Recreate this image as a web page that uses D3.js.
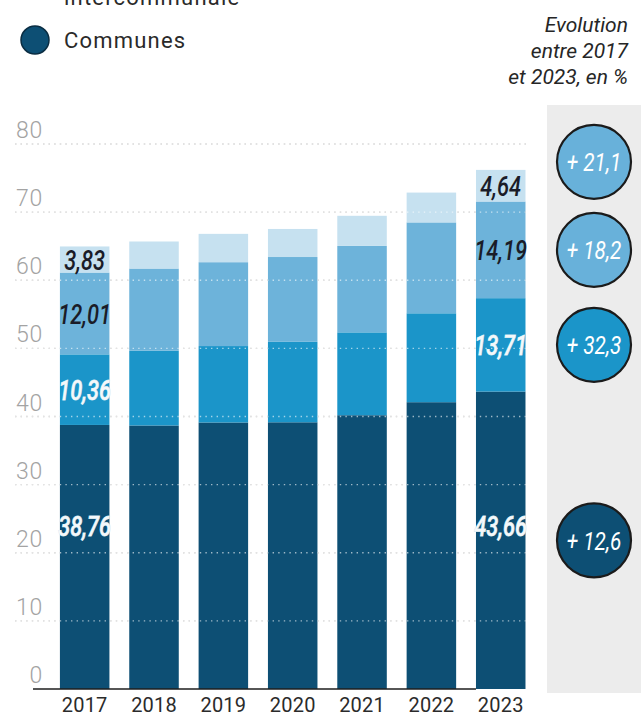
<!DOCTYPE html>
<html>
<head>
<meta charset="utf-8">
<script src="https://cdn.jsdelivr.net/npm/d3@7"></script>
<style>
  html, body { margin: 0; padding: 0; background: #fff; }
  svg { display: block; }
</style>
</head>
<body>
<svg id="chart" width="643" height="716"></svg>
<script>
// ---- data (milliards d'euros, empilés du bas vers le haut) ----
const years    = ["2017", "2018", "2019", "2020", "2021", "2022", "2023"];
const communes = [38.76, 38.68, 39.12, 39.15, 40.19, 42.10, 43.66];
const niveau2  = [10.36, 10.98, 11.22, 11.81, 12.16, 13.05, 13.71];
const niveau3  = [12.01, 12.06, 12.31, 12.45, 12.69, 13.34, 14.19];
const niveau4  = [3.83, 3.97, 4.16, 4.12, 4.42, 4.38, 4.64];
const yTicks   = [0, 10, 20, 30, 40, 50, 60, 70, 80];
const legendLabels = ["intercommunale", "Communes"];
const headerLines  = ["Evolution", "entre 2017", "et 2023, en %"];
const labelledYears = ["2017", "2023"];

// ---- styling ----
const seriesKeys   = ["communes", "niveau2", "niveau3", "niveau4"];
const seriesColors = ["#0d4f74", "#1b95c9", "#6db3da", "#c6e1f0"];
const labelFill    = ["#f4f8fa", "#f4f8fa", "#1a1c28", "#1a1c28"];

const svg = d3.select("#chart");

const rows = years.map((y, i) => ({
  year: y, communes: communes[i], niveau2: niveau2[i], niveau3: niveau3[i], niveau4: niveau4[i]
}));
const stacked = d3.stack().keys(seriesKeys)(rows);

const x = d3.scaleBand().domain(years).range([50, 535.4]).paddingInner(0.286).paddingOuter(0.143);
const y = d3.scaleLinear().domain([0, 80]).range([689, 144]);

const fmt2 = v => d3.format(".2f")(v).replace(".", ",");
const fmt1 = v => d3.format(".1f")(v).replace(".", ",");

// grey panel holding the evolution bubbles
svg.append("rect")
  .attr("x", 547).attr("y", 105).attr("width", 94).attr("height", 588)
  .attr("fill", "#ececec");

// legend (the first entry's wording runs above the top edge)
svg.append("text")
  .attr("x", 64).attr("y", 5)
  .attr("font-family", "Roboto, 'Liberation Sans', sans-serif")
  .attr("font-size", 22).attr("fill", "#2a2a2a")
  .attr("letter-spacing", 1.2)
  .text(legendLabels[0]);
svg.append("circle")
  .attr("cx", 35).attr("cy", 40).attr("r", 14)
  .attr("fill", seriesColors[0]).attr("stroke", "#0a2d42").attr("stroke-width", 1.5);
svg.append("text")
  .attr("x", 64).attr("y", 48)
  .attr("font-family", "Roboto, 'Liberation Sans', sans-serif")
  .attr("font-size", 22).attr("fill", "#2a2a2a")
  .attr("letter-spacing", 1.2)
  .text(legendLabels[1]);

// header of the evolution column
svg.append("g").selectAll("text").data(headerLines).join("text")
  .attr("x", 628).attr("y", (d, i) => 32 + i * 26)
  .attr("text-anchor", "end")
  .attr("font-family", "Roboto, 'Liberation Sans', sans-serif")
  .attr("font-style", "italic")
  .attr("font-size", 21).attr("fill", "#262626")
  .text(d => d);

// y labels
svg.append("g").selectAll("text").data(yTicks).join("text")
  .attr("x", 43).attr("y", d => y(d) - 6)
  .attr("text-anchor", "end")
  .attr("font-family", "Roboto, 'Liberation Sans', sans-serif")
  .attr("font-weight", 300)
  .attr("font-size", 23).attr("fill", "#a3a3a3")
  .attr("letter-spacing", 0.8)
  .text(d => d);

// gridlines behind the bars
const gridTicks = yTicks.filter(t => t > 0);
svg.append("g").selectAll("line").data(gridTicks).join("line")
  .attr("x1", 15).attr("x2", 527)
  .attr("y1", d => y(d)).attr("y2", d => y(d))
  .attr("stroke", "#b9b9b9").attr("stroke-width", 1.4)
  .attr("stroke-dasharray", "1.4 4.2");

// stacked bars
svg.append("g").selectAll("g").data(stacked).join("g")
  .attr("fill", (d, i) => seriesColors[i])
  .selectAll("rect").data(d => d).join("rect")
  .attr("x", d => x(d.data.year))
  .attr("width", x.bandwidth())
  .attr("y", d => y(d[1]))
  .attr("height", d => y(d[0]) - y(d[1]));

// gridlines showing through the bars
svg.append("g").selectAll("line").data(gridTicks).join("line")
  .attr("x1", 15).attr("x2", 527)
  .attr("y1", d => y(d)).attr("y2", d => y(d))
  .attr("stroke", "#ffffff").attr("stroke-opacity", 0.6).attr("stroke-width", 1.4)
  .attr("stroke-dasharray", "1.4 4.2");

// baseline
svg.append("line")
  .attr("x1", 33).attr("x2", x("2023"))
  .attr("y1", y(0)).attr("y2", y(0))
  .attr("stroke", "#1e1e1e").attr("stroke-width", 1.6);

// year labels
svg.append("g").selectAll("text").data(years).join("text")
  .attr("x", d => x(d) + x.bandwidth() / 2)
  .attr("y", 712)
  .attr("text-anchor", "middle")
  .attr("font-family", "Roboto, 'Liberation Sans', sans-serif")
  .attr("font-size", 20).attr("fill", "#2b2b2b")
  .attr("letter-spacing", 0.2)
  .text(d => d);

// value labels on the first and last bars
const bottomLabelValue = 24;
const valueLabels = [];
stacked.forEach((s, si) => {
  s.forEach(d => {
    if (!labelledYears.includes(d.data.year)) return;
    const mid = si === 0 ? y(bottomLabelValue) : (y(d[0]) + y(d[1])) / 2;
    valueLabels.push({ cx: x(d.data.year) + x.bandwidth() / 2, cy: mid, v: d[1] - d[0], si });
  });
});
const vl = svg.append("g").selectAll("g").data(valueLabels).join("g")
  .attr("transform", d => `translate(${d.cx},${d.cy}) scale(0.78,1)`);
vl.append("text")
  .attr("text-anchor", "middle").attr("dy", "0.36em")
  .attr("font-family", "Roboto, 'Liberation Sans', sans-serif")
  .attr("font-style", "italic").attr("font-weight", 500)
  .attr("font-size", 28)
  .attr("fill", d => labelFill[d.si])
  .attr("stroke", d => d.si < 2 ? "#cfe4ef" : "none")
  .attr("stroke-width", 0.8)
  .attr("paint-order", "stroke")
  .text(d => fmt2(d.v));

// evolution bubbles, aligned with the 2023 segments and pushed apart
const last = stacked.map(s => s[s.length - 1]);
const evo = stacked.map((s, i) => ({
  si: i,
  pct: (s[s.length - 1].data[seriesKeys[i]] / s[0].data[seriesKeys[i]] - 1) * 100,
  cy: (y(last[i][0]) + y(last[i][1])) / 2
}));
const minGap = 88;
for (let i = 1; i < evo.length; i++) {
  if (evo[i - 1].cy - evo[i].cy < minGap) evo[i].cy = evo[i - 1].cy - minGap;
}
const bubbleFill = [seriesColors[0], seriesColors[1], "#68b1da", "#68b1da"];
const bub = svg.append("g").selectAll("g").data(evo).join("g")
  .attr("transform", d => `translate(594,${d.cy})`);
bub.append("circle")
  .attr("r", 37)
  .attr("fill", d => bubbleFill[d.si])
  .attr("stroke", "#1b1b1b").attr("stroke-width", 2.2);
bub.append("text")
  .attr("transform", "scale(0.8,1)")
  .attr("text-anchor", "middle").attr("dy", "0.36em")
  .attr("font-family", "Roboto, 'Liberation Sans', sans-serif")
  .attr("font-style", "italic")
  .attr("font-size", 26).attr("fill", "#ffffff")
  .text(d => "+ " + fmt1(d.pct));
</script>
</body>
</html>
